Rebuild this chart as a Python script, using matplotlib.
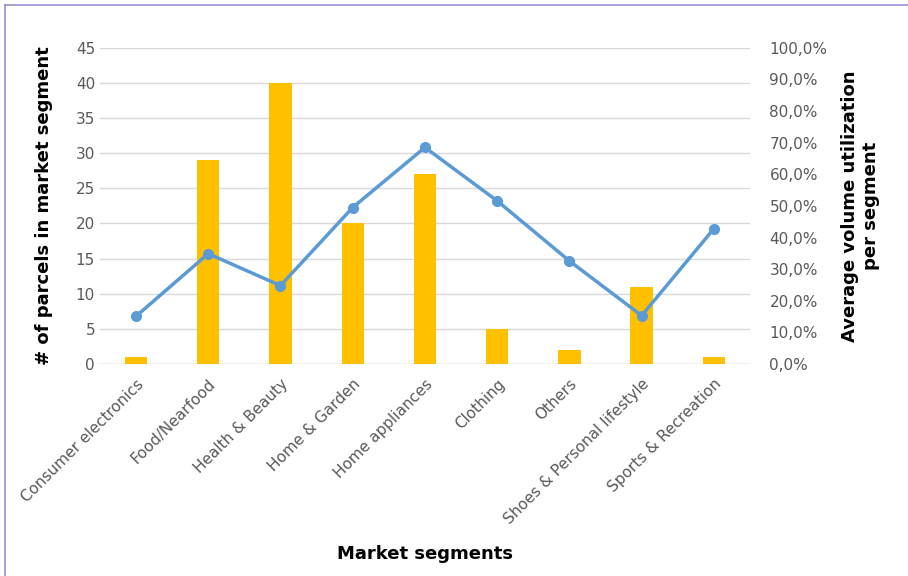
import matplotlib
matplotlib.use("Agg")
import matplotlib.pyplot as plt
from matplotlib.ticker import FuncFormatter
from matplotlib.lines import Line2D
import numpy as np

segments = ["Consumer electronics", "Food/Nearfood", "Health & Beauty", "Home & Garden",
            "Home appliances", "Clothing", "Others", "Shoes & Personal lifestyle",
            "Sports & Recreation"]
parcels = [1, 29, 40, 20, 27, 5, 2, 11, 1]
utilization = [15.1, 34.9, 24.8, 49.5, 68.5, 51.6, 32.6, 15.3, 42.8]

gray = "#595959"
plt.rcParams["font.family"] = ["DejaVu Sans"]

fig = plt.figure(figsize=(9.08, 5.76), dpi=100)
ax = fig.add_axes([0.110, 0.368, 0.716, 0.549])
x = np.arange(len(segments))

ax.bar(x, parcels, width=0.31, color="#FFC000", zorder=2)
ax.set_xlim(-0.5, len(segments) - 0.5)
ax.set_ylim(0, 45)
ax.set_yticks(range(0, 46, 5))
ax.grid(axis="y", color="#D9D9D9", linewidth=1, zorder=0)
ax.set_axisbelow(True)
for s in ax.spines.values():
    s.set_visible(False)
ax.axhline(0, color="#D9D9D9", linewidth=1, zorder=1)
ax.tick_params(axis="both", length=0, colors=gray, labelsize=11)
ax.set_xticks(x)
ax.set_xticklabels(segments, rotation=45, ha="right", rotation_mode="anchor")
ax.tick_params(axis="x", pad=9)
ax.set_ylabel("# of parcels in market segment", fontsize=13, fontweight="bold", labelpad=16)
ax.set_xlabel("Market segments", fontsize=13, fontweight="bold", labelpad=13)

ax2 = ax.twinx()
ax2.plot(x, utilization, color="#5B9BD5", linewidth=2.5, marker="o", markersize=7, zorder=3)
ax2.set_ylim(0, 100)
ax2.set_yticks(range(0, 101, 10))
ax2.yaxis.set_major_formatter(FuncFormatter(lambda v, p: f"{v:.1f}%".replace(".", ",")))
for s in ax2.spines.values():
    s.set_visible(False)
ax2.tick_params(axis="y", length=0, colors=gray, labelsize=11, pad=14)
ax2.set_ylabel("Average volume utilization\nper segment", fontsize=13, fontweight="bold",
               labelpad=10)

# thin frame lines on the figure edge
fig.add_artist(Line2D([0.005, 0.005], [0, 0.991], color="#9C8FD6", linewidth=1.2))
fig.add_artist(Line2D([0.005, 1], [0.991, 0.991], color="#9C8FD6", linewidth=1.2))

fig.savefig("out.png", dpi=100)
